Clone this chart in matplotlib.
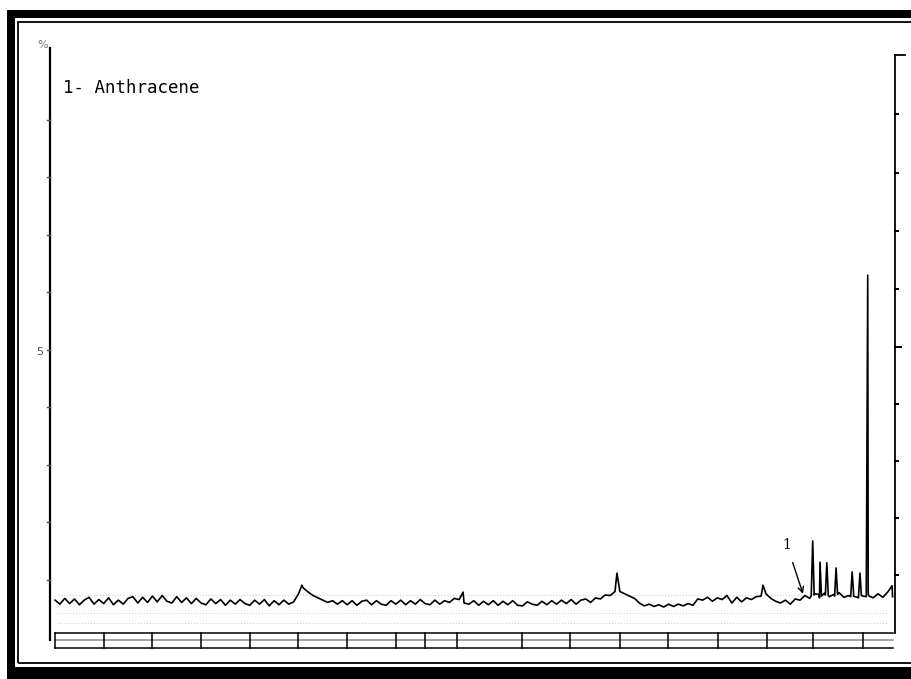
import numpy as np
import matplotlib
matplotlib.use("Agg")
import matplotlib.pyplot as plt
from matplotlib.patches import Rectangle

# baseline of the trace, one reading every 0.1 min (t = 0.0 ... 17.2)
base_t = np.round(np.arange(0, 17.25, 0.1), 2)
base_y = [
    6.5, 5.8, 6.8, 5.9, 6.7, 5.7, 6.5, 7.0, 5.8, 6.6,
    5.9, 6.9, 5.7, 6.5, 5.8, 6.8, 7.1, 6.0, 7.0, 6.1,
    7.2, 6.2, 7.3, 6.3, 6.0, 7.1, 6.1, 6.9, 5.9, 6.8,
    6.0, 5.7, 6.7, 5.9, 6.6, 5.6, 6.5, 5.8, 6.6, 5.9,
    5.6, 6.5, 5.8, 6.6, 5.5, 6.4, 5.7, 6.5, 5.8, 6.2,
    7.6, 8.6, 7.9, 7.3, 6.9, 6.5, 6.1, 6.4, 5.8, 6.4,
    5.7, 6.4, 5.6, 6.3, 6.5, 5.7, 6.4, 5.8, 5.6, 6.4,
    5.8, 6.5, 5.7, 6.4, 5.8, 6.6, 5.9, 5.7, 6.5, 5.8,
    6.4, 6.1, 6.8, 6.6, 6.0, 5.8, 6.4, 5.6, 6.3, 5.7,
    6.4, 5.6, 6.3, 5.7, 6.4, 5.6, 5.5, 6.2, 5.8, 5.6,
    6.3, 5.7, 6.4, 5.8, 6.5, 5.9, 6.6, 5.8, 6.5, 6.7,
    6.1, 6.9, 6.7, 7.4, 7.3, 8.0, 8.0, 7.6, 7.2, 6.8,
    6.0, 5.5, 5.8, 5.4, 5.7, 5.3, 5.8, 5.4, 5.8, 5.5,
    5.9, 5.6, 6.7, 6.5, 7.0, 6.3, 6.9, 6.6, 7.3, 6.0,
    7.0, 6.2, 6.9, 6.6, 7.1, 7.2, 7.6, 6.8, 6.3, 6.0,
    6.5, 5.8, 6.7, 6.5, 7.3, 6.8, 7.6, 6.9, 7.7, 7.1,
    7.5, 7.8, 7.0, 7.3, 7.6, 6.9, 7.2, 7.5, 6.9, 7.6,
    7.0, 7.9, 7.1,
]

# peak apexes
peak_t = [5.07, 8.38, 11.54, 14.54, 15.56, 15.71, 15.85, 16.04, 16.37, 16.53, 16.69, 17.19]
peak_y = [9.1, 7.9, 11.2, 9.1, 16.8, 13.1, 13.0, 12.1, 11.4, 11.2, 63.0, 9.0]

# feet of the narrow peaks at the end of the run
foot_t = [15.53, 15.59, 15.68, 15.74, 15.82, 15.88, 16.01, 16.07,
          16.34, 16.40, 16.50, 16.56, 16.66, 16.72]
foot_y = [7.3, 7.4, 7.5, 7.2, 7.4, 7.3, 7.2, 7.5, 7.1, 7.2, 7.0, 7.3, 7.1, 7.2]

# time bar below the trace
bar_div = [0, 1, 2, 3, 4, 5, 6, 7, 7.6, 8.25, 9.6, 10.57, 11.6, 12.59, 13.61, 14.62, 15.56, 16.59]
left_ticks = [10, 20, 30, 40, 50, 60, 70, 80, 90]
right_ticks = [10.8, 20.7, 30.7, 40.6, 50.5, 60.6, 70.7, 80.8, 91.0]

tt = np.concatenate([base_t, peak_t, foot_t])
yy = np.concatenate([base_y, peak_y, foot_y])
order = np.argsort(tt, kind="stable")
tt, yy = tt[order], yy[order]

W, H = 911, 679
fig = plt.figure(figsize=(W / 100, H / 100), dpi=100)

def fx(px):
    return px / W

def fy(py):
    return 1 - py / H

# scanned black frame
for x0, y0, x1, y1 in [(7, 10, 15, 679), (7, 10, 911, 18), (7, 667, 911, 679)]:
    fig.add_artist(Rectangle((fx(x0), fy(y1)), fx(x1) - fx(x0), fy(y0) - fy(y1),
                             transform=fig.transFigure, color="black", lw=0))
fig.add_artist(Rectangle((fx(18), fy(663)), fx(920) - fx(18), fy(22) - fy(663),
                         transform=fig.transFigure, fill=False, ec="black", lw=1.3))

ax = fig.add_axes([fx(50), fy(650), fx(895) - fx(50), fy(48) - fy(650)])
ax.set_xlim(-0.103, 17.25)
ax.set_ylim(-2.17, 102.5)
ax.axis("off")

# faint scan lines
for yv in [7.4, 4.3, 2.5]:
    ax.axhline(yv, xmin=0.01, xmax=0.99, color="0.82", ls=":", lw=0.8)

ax.plot(tt, yy, color="black", lw=1.2)

# axes lines
ax.plot([-0.103, -0.103], [-0.43, 102.5], color="black", lw=1.6, clip_on=False)
ax.plot([17.25, 17.25], [0.78, 101.3], color="black", lw=1.3, clip_on=False)
ax.plot([17.25, 17.45], [101.3, 101.3], color="black", lw=1.3, clip_on=False)
for yv in left_ticks:
    ax.plot([-0.17, -0.103], [yv, yv], color="0.3", lw=1.0, clip_on=False)
for yv in right_ticks:
    ln = 0.12 if abs(yv - 50.5) < 1 else 0.06
    ax.plot([17.25, 17.25 + ln], [yv, yv], color="black", lw=1.4, clip_on=False)

# time bar
for yv in [0.78, -0.43, -1.83]:
    ax.plot([0, 17.2], [yv, yv], color="black" if yv != -0.43 else "0.55", lw=1.1)
for xv in bar_div:
    ax.plot([xv, xv], [-1.83, 0.78], color="black", lw=1.1)

ax.text(-0.25, 103.0, "%", fontsize=8, color="0.45", ha="center", va="center")
ax.text(-0.32, 49.6, "5", fontsize=8, color="0.3", ha="center", va="center")
ax.text(0.16, 95.6, "1- Anthracene", fontsize=12.5, family="DejaVu Sans Mono",
        ha="left", va="center")

ax.annotate("1", xy=(15.36, 7.6), xytext=(15.03, 16.1), fontsize=10,
            family="DejaVu Serif", ha="center", va="center",
            arrowprops=dict(arrowstyle="->", color="black", lw=1.0,
                            shrinkA=6, shrinkB=0))

fig.savefig("out.png", dpi=100)
